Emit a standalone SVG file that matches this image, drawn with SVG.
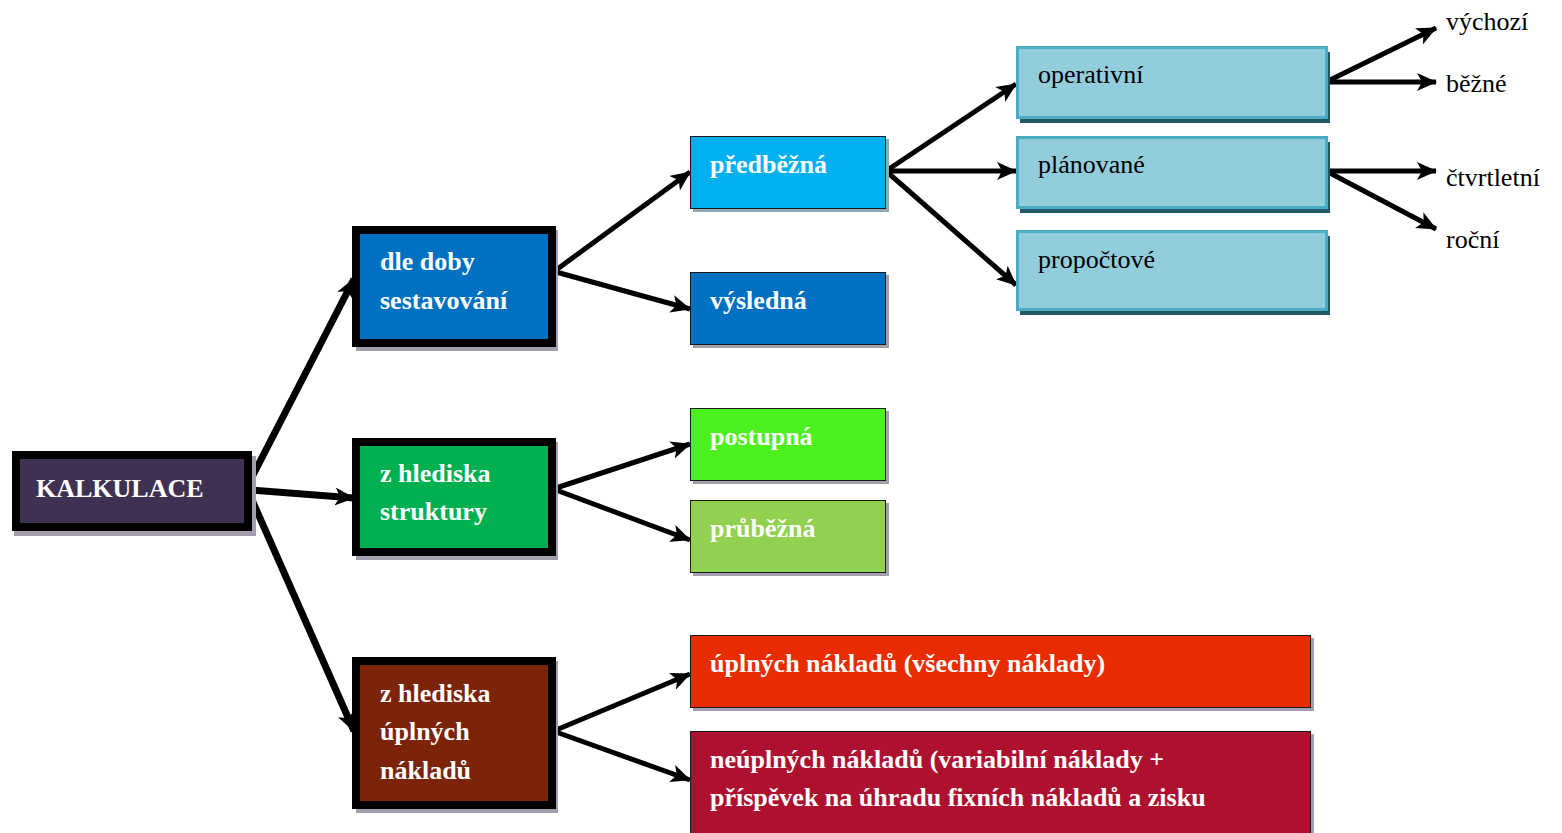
<svg xmlns="http://www.w3.org/2000/svg" width="1562" height="833" viewBox="0 0 1562 833">
<defs>
<marker id="ah" viewBox="0 0 20 18" refX="19" refY="9" markerWidth="20" markerHeight="18" markerUnits="userSpaceOnUse" orient="auto">
<path d="M0,0 L20,9 L0,18 L5,9 Z" fill="#000"/>
</marker>
<style>
.b{font-weight:bold;fill:#fff;}
.n{fill:#000;}
.c{stroke:#000;stroke-width:5;fill:none;marker-end:url(#ah);}
.c1{stroke-width:7;}
.thick{stroke:#000;stroke-width:8;}
.sh{fill:#A39DAE;}
.thin{stroke:#1a1a1a;stroke-width:1;}
.lb{fill:#92CDDC;stroke:#4BACC6;stroke-width:3;}
.lbs{fill:#215868;}
</style>
</defs>
<rect width="1562" height="833" fill="#fff"/>

<g id="connectors">
<line class="c c1" x1="252" y1="477" x2="354" y2="279"/>
<line class="c c1" x1="252" y1="490" x2="354" y2="498"/>
<line class="c c1" x1="252" y1="500" x2="354" y2="731"/>
<line class="c" x1="556" y1="270" x2="690" y2="172"/>
<line class="c" x1="556" y1="272" x2="690" y2="309"/>
<line class="c" x1="556" y1="488" x2="690" y2="444"/>
<line class="c" x1="556" y1="490" x2="690" y2="540"/>
<line class="c" x1="556" y1="730" x2="690" y2="674"/>
<line class="c" x1="556" y1="732" x2="690" y2="780"/>
<line class="c" x1="886" y1="171" x2="1016" y2="84"/>
<line class="c" x1="886" y1="171" x2="1016" y2="171"/>
<line class="c" x1="886" y1="171" x2="1016" y2="285"/>
<line class="c" x1="1328" y1="81" x2="1436" y2="28"/>
<line class="c" x1="1328" y1="82" x2="1436" y2="82"/>
<line class="c" x1="1328" y1="171" x2="1436" y2="171"/>
<line class="c" x1="1328" y1="172" x2="1436" y2="229"/>
</g>

<g font-family="Liberation Serif, Times New Roman, serif" font-size="26">
<g id="kalkulace">
<rect class="sh" x="14" y="456" width="242" height="80"/>
<rect class="thick" x="16" y="455" width="232" height="72" fill="#3F3151"/>
<text class="b" x="36" y="497">KALKULACE</text>
</g>

<g id="dle-doby">
<rect class="sh" x="356" y="230" width="202" height="121"/>
<rect class="thick" x="356" y="230" width="196" height="113" fill="#0070C0"/>
<text class="b" x="380" y="270">dle doby</text>
<text class="b" x="380" y="309">sestavování</text>
</g>

<g id="z-hlediska-struktury">
<rect class="sh" x="356" y="442" width="202" height="118"/>
<rect class="thick" x="356" y="442" width="196" height="110" fill="#00B050"/>
<text class="b" x="380" y="482">z hlediska</text>
<text class="b" x="380" y="520">struktury</text>
</g>

<g id="z-hlediska-uplnych">
<rect class="sh" x="356" y="661" width="202" height="152"/>
<rect class="thick" x="356" y="661" width="196" height="144" fill="#7B2409"/>
<text class="b" x="380" y="702">z hlediska</text>
<text class="b" x="380" y="740">úplných</text>
<text class="b" x="380" y="779">nákladů</text>
</g>

<g id="predbezna">
<rect x="693" y="139" width="196" height="73" fill="#8FAAB4"/>
<rect class="thin" x="690.5" y="136.5" width="195" height="72" fill="#00B0F0"/>
<text class="b" x="710" y="173">předběžná</text>
</g>

<g id="vysledna">
<rect class="sh" x="693" y="275" width="196" height="73"/>
<rect class="thin" x="690.5" y="272.5" width="195" height="72" fill="#0070C0"/>
<text class="b" x="710" y="309">výsledná</text>
</g>

<g id="postupna">
<rect class="sh" x="693" y="411" width="196" height="73"/>
<rect class="thin" x="690.5" y="408.5" width="195" height="72" fill="#4CF01F"/>
<text class="b" x="710" y="445">postupná</text>
</g>

<g id="prubezna">
<rect class="sh" x="693" y="503" width="196" height="73"/>
<rect class="thin" x="690.5" y="500.5" width="195" height="72" fill="#92D050"/>
<text class="b" x="710" y="537">průběžná</text>
</g>

<g id="uplnych-nakladu">
<rect class="sh" x="693" y="638" width="621" height="73"/>
<rect class="thin" x="690.5" y="635.5" width="620" height="72" fill="#E82C00"/>
<text class="b" x="710" y="672">úplných nákladů (všechny náklady)</text>
</g>

<g id="neuplnych-nakladu">
<rect class="sh" x="693" y="734" width="621" height="110"/>
<rect class="thin" x="690.5" y="731.5" width="620" height="110" fill="#AE1130"/>
<text class="b" x="710" y="768">neúplných nákladů (variabilní náklady +</text>
<text class="b" x="710" y="806">příspěvek na úhradu fixních nákladů a zisku</text>
</g>

<g id="operativni">
<rect class="lbs" x="1020" y="52" width="310" height="71"/>
<rect class="lb" x="1017.5" y="47.5" width="309" height="70"/>
<text class="n" x="1038" y="83">operativní</text>
</g>

<g id="planovane">
<rect class="lbs" x="1020" y="142" width="310" height="71"/>
<rect class="lb" x="1017.5" y="137.5" width="309" height="70"/>
<text class="n" x="1038" y="173">plánované</text>
</g>

<g id="propoctove">
<rect class="lbs" x="1020" y="236" width="310" height="79"/>
<rect class="lb" x="1017.5" y="231.5" width="309" height="78"/>
<text class="n" x="1038" y="268">propočtové</text>
</g>

<g id="vychozi"><text class="n" x="1446" y="30">výchozí</text></g>
<g id="bezne"><text class="n" x="1446" y="92">běžné</text></g>
<g id="ctvrtletni"><text class="n" x="1446" y="186">čtvrtletní</text></g>
<g id="rocni"><text class="n" x="1446" y="248">roční</text></g>
</g>
</svg>
